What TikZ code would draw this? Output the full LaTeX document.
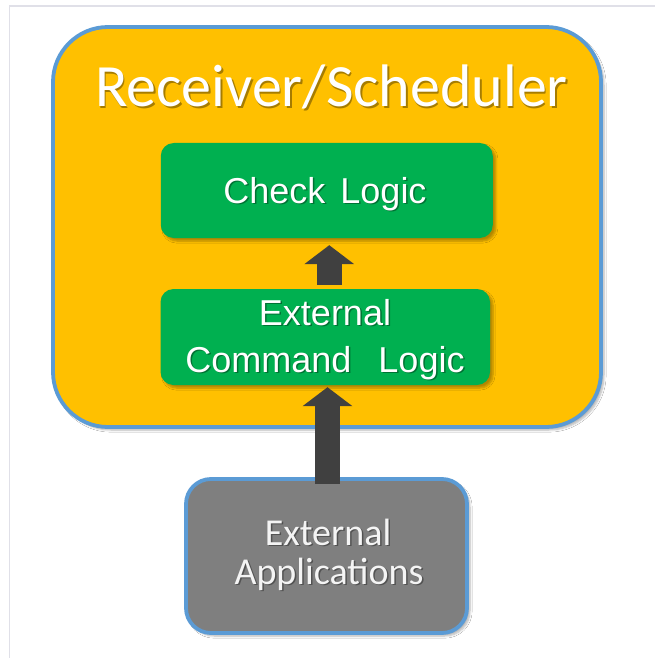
\documentclass[tikz,border=0pt]{standalone}
\usepackage{fontspec}
\setmainfont{Liberation Sans}
\newfontfamily\calib{Carlito}
\usetikzlibrary{arrows.meta,shadows.blur}
\definecolor{rsorange}{HTML}{FFC000}
\definecolor{bordblue}{HTML}{5B9BD5}
\definecolor{logicgreen}{HTML}{00B050}
\definecolor{arrowgray}{HTML}{404040}
\definecolor{appgray}{HTML}{7F7F7F}
\definecolor{framegray}{HTML}{E0E0E8}
\definecolor{apptext}{HTML}{F4F4F4}
\newcommand\shtxt[4]{%
  \node[#3,anchor=base,text=black,opacity=.35] at ([shift={(1.5,1.5)}]#2) {#4};
  \node[#3,anchor=base] (#1) at (#2) {#4};}
\begin{document}
\begin{tikzpicture}[x=1bp,y=-1bp,
  softshadow/.style={blur shadow={shadow xshift=3bp,shadow yshift=-3bp,shadow opacity=30,shadow blur steps=6}},
  outerbox/.style={draw=bordblue,line width=3.8bp,fill=rsorange,rounded corners=55bp,
    minimum width=548bp,minimum height=400bp,inner sep=0pt,softshadow},
  logicbox/.style={fill=logicgreen,rounded corners=13bp,inner sep=0pt,softshadow},
  appbox/.style={draw=bordblue,line width=3.8bp,fill=appgray,rounded corners=25bp,
    minimum width=281bp,minimum height=154bp,inner sep=0pt,softshadow},
  titletxt/.style={font=\calib\fontsize{60bp}{70bp}\selectfont,text=white,inner sep=0pt},
  logictxt/.style={font=\fontsize{36bp}{44bp}\selectfont,text=white,inner sep=0pt},
  apptxt/.style={font=\calib\fontsize{38bp}{44bp}\selectfont,text=apptext,inner sep=0pt},
  flowarrow/.style={draw=arrowgray,line width=25bp,
    -{Triangle[width=49bp,length=19bp,fill=arrowgray]}},
]
\useasboundingbox (0,0) rectangle (655,658);
\fill[white] (0,0) rectangle (655,658);
\draw[framegray,line width=1.5bp] (9.5,658) -- (9.5,6) -- (655,6);

\node[outerbox] (rs) at (327,227) {};
\shtxt{title}{331.5,107}{titletxt}{Receiver/Scheduler}

\node[logicbox,minimum width=332bp,minimum height=95bp] (check) at (326.75,190.5) {};
\shtxt{checktxt}{325,203}{logictxt}{Check\hspace{5bp} Logic}

\node[logicbox,minimum width=329.5bp,minimum height=96bp] (ecl) at (325.25,337) {};
\shtxt{ecltxta}{325,325}{logictxt}{External}
\shtxt{ecltxtb}{325,372}{logictxt}{Command\hspace{17bp} Logic}

\node[appbox] (apps) at (326.5,556) {};
\shtxt{apptxta}{328,545}{apptxt}{External}
\shtxt{apptxtb}{329,584}{apptxt}{Applications}

\draw[flowarrow] ([xshift=4bp,yshift=4bp]ecl.north) -- ([xshift=4bp,yshift=-7bp]ecl.north |- check.south);
\draw[flowarrow] ([xshift=1bp,yshift=-7bp]apps.north) -- ([xshift=1bp,yshift=-2bp]apps.north |- ecl.south);
\end{tikzpicture}
\end{document}
